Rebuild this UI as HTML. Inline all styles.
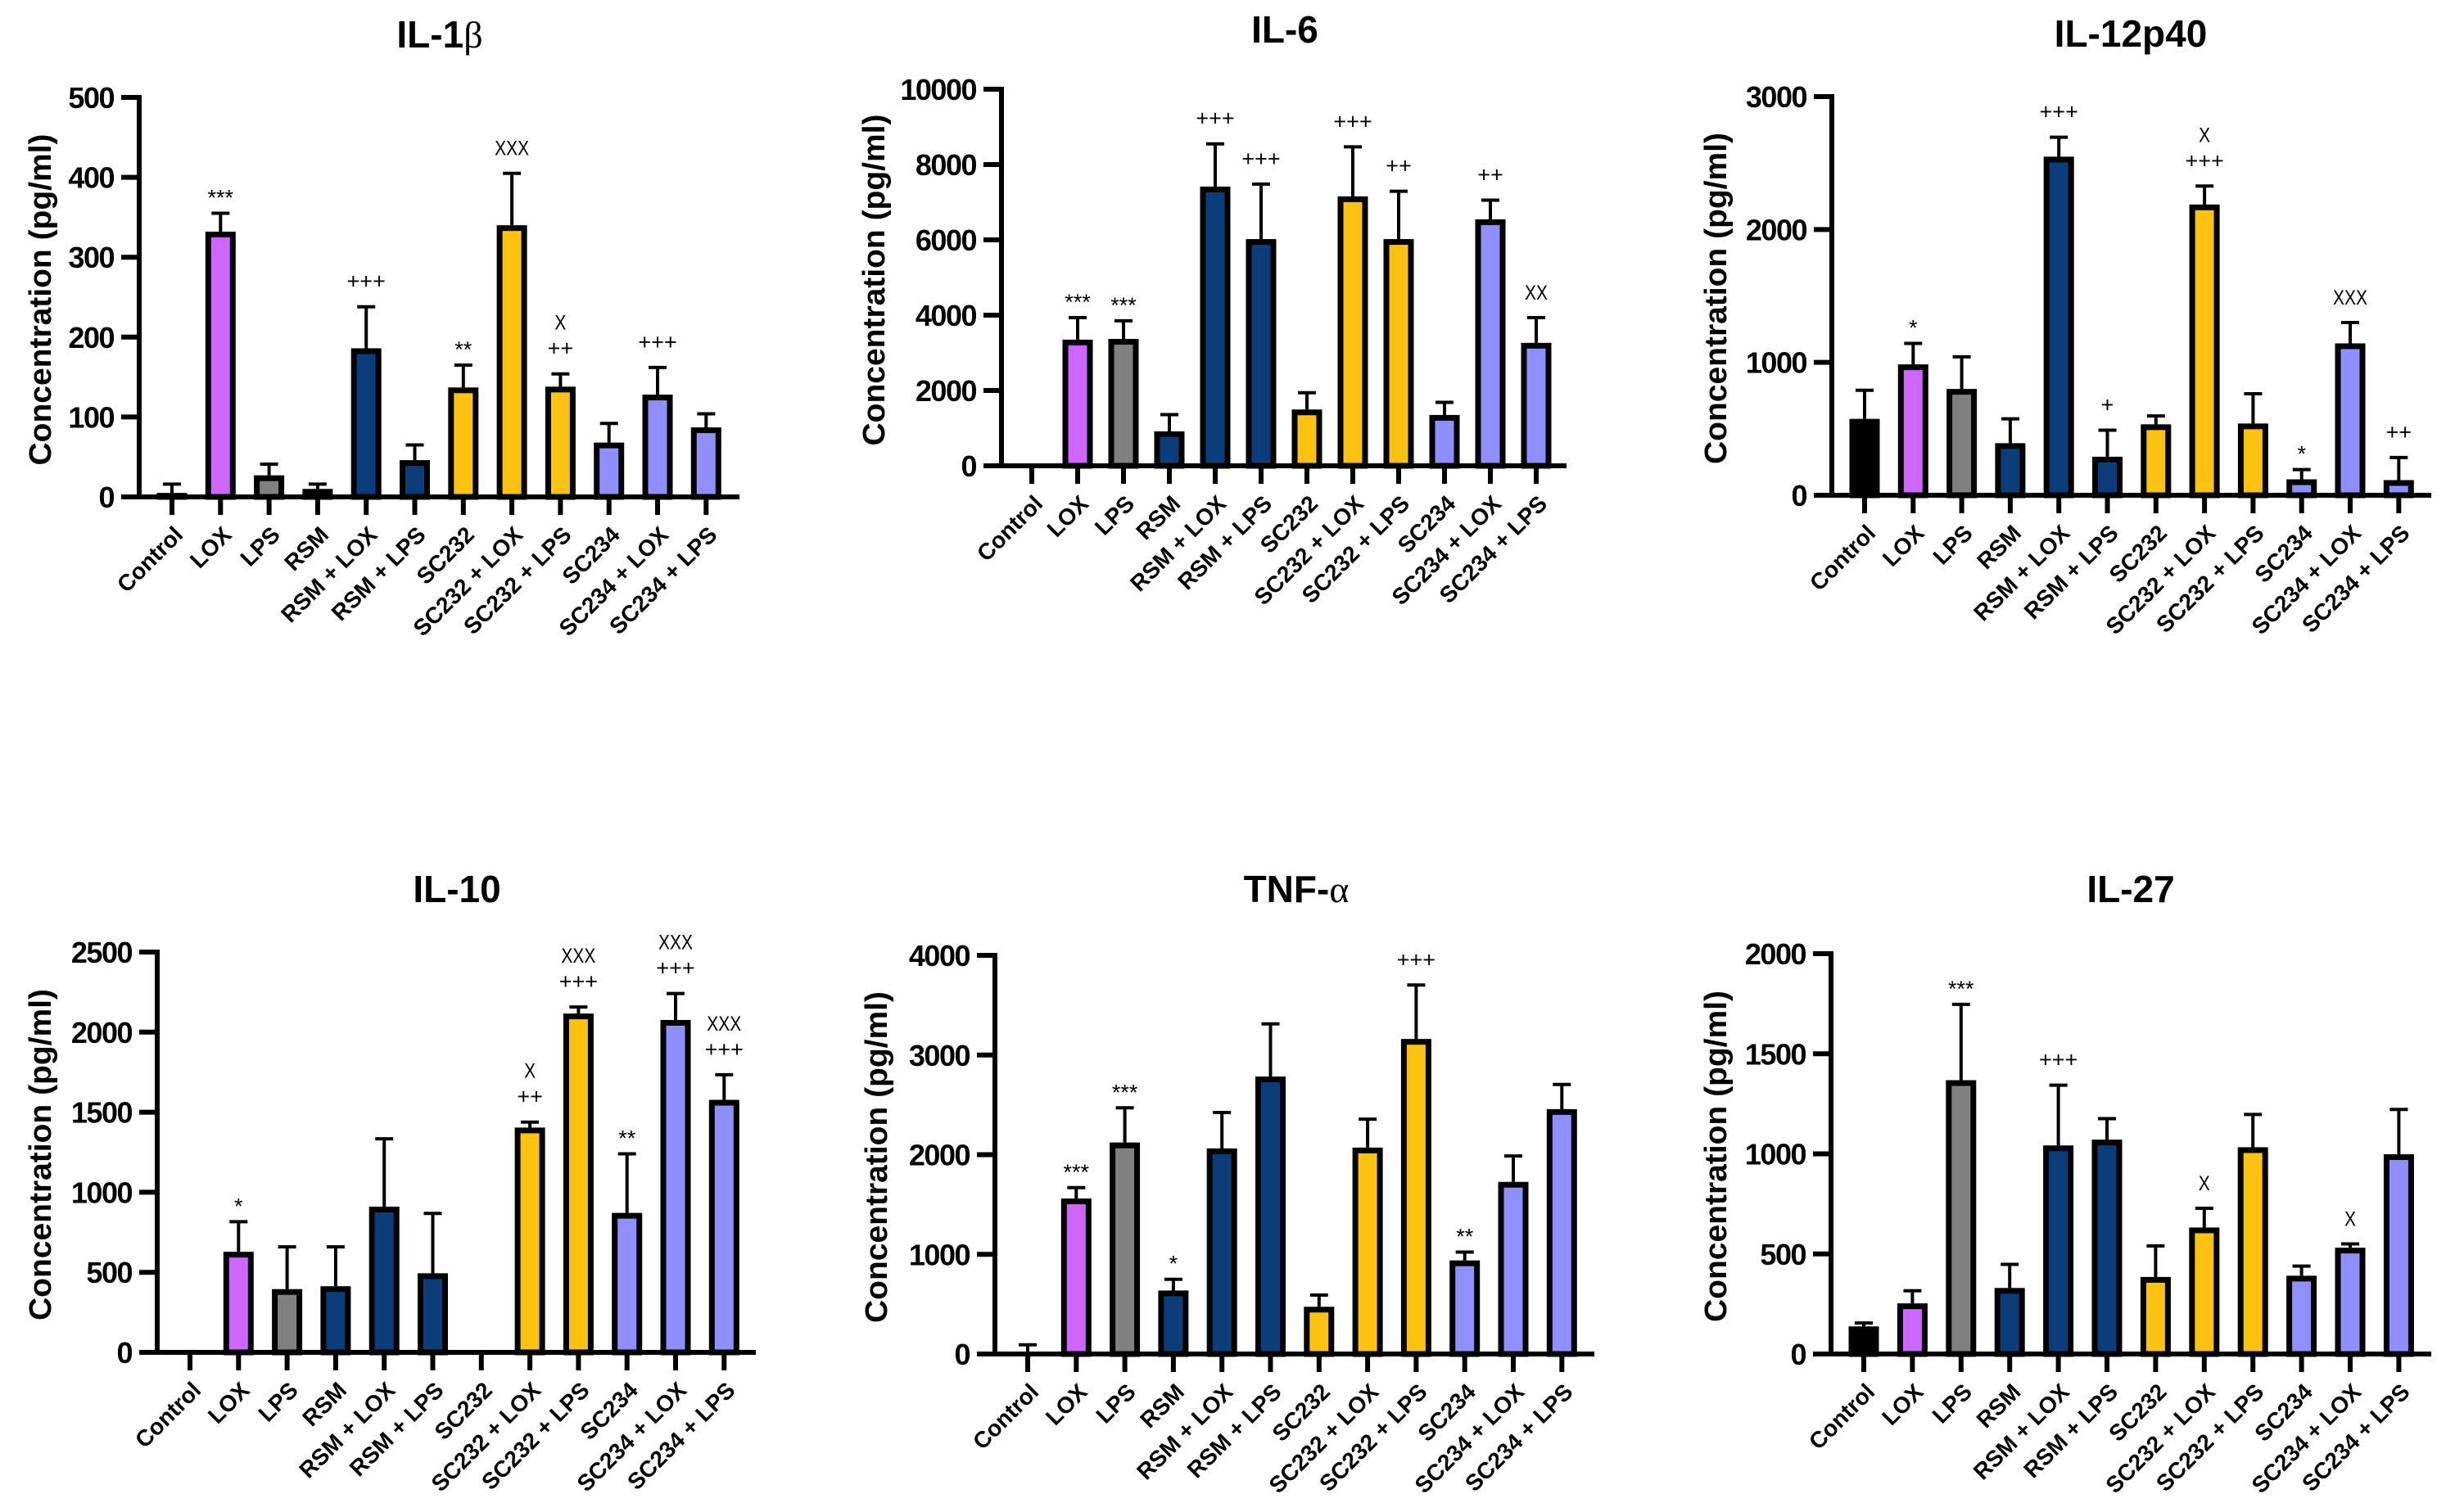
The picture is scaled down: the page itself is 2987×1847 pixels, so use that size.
<!DOCTYPE html>
<html><head><meta charset="utf-8">
<style>
html,body{margin:0;padding:0;background:#fff;}
svg{display:block;}
</style></head>
<body>
<svg id="fig" width="2987" height="1847" viewBox="0 0 2987 1847" xmlns="http://www.w3.org/2000/svg"></svg>
<script>
const categories = ["Control","LOX","LPS","RSM","RSM + LOX","RSM + LPS","SC232","SC232 + LOX","SC232 + LPS","SC234","SC234 + LOX","SC234 + LPS"];
const groupColors = ["#000000","#CC66FF","#808080","#0A3D7A","#0A3D7A","#0A3D7A","#FBC211","#FBC211","#FBC211","#8F8FFF","#8F8FFF","#8F8FFF"];

const il1bValues = [5,332,27,10,186,46,137,340,138,68,128,87];
const il1bErrors = [16,355,41,16,238,65,165,405,154,92,162,104];
const il1bTicks = [0,100,200,300,400,500];
const il1bMarks = [[],["***"],[],[],["+++"],[],["**"],["XXX"],["++","X"],[],["+++"],[]];

const il6Values = [0,3350,3370,915,7415,6020,1495,7155,6020,1350,6545,3265];
const il6Errors = [0,3935,3850,1360,8550,7480,1940,8470,7290,1685,7055,3935];
const il6Ticks = [0,2000,4000,6000,8000,10000];
const il6Marks = [[],["***"],["***"],[],["+++"],["+++"],[],["+++"],["++"],[],["++"],["XX"]];

const il12Values = [575,985,800,392,2548,290,534,2188,540,120,1143,114];
const il12Errors = [790,1143,1042,575,2694,490,597,2327,764,193,1300,284];
const il12Ticks = [0,1000,2000,3000];
const il12Marks = [[],["*"],[],[],["+++"],["+"],[],["+++","X"],[],["*"],["XXX"],["++"]];

const il10Values = [0,628,395,413,910,494,0,1404,2116,871,2076,1577];
const il10Errors = [0,816,659,659,1334,868,0,1438,2157,1240,2241,1734];
const il10Ticks = [0,500,1000,1500,2000,2500];
const il10Marks = [[],["*"],[],[],[],[],[],["++","X"],["+++","XXX"],["**"],["+++","XXX"],["+++","XXX"]];

const tnfValues = [25,1560,2122,637,2063,2784,474,2071,3161,939,1727,2457];
const tnfErrors = [92,1669,2470,750,2423,3312,591,2356,3702,1023,1987,2704];
const tnfTicks = [0,1000,2000,3000,4000];
const tnfMarks = [[],["***"],["***"],["*"],[],[],[],[],["+++"],["**"],[],[]];

const il27Values = [138,253,1368,330,1042,1071,385,632,1033,391,531,998];
const il27Errors = [155,316,1747,448,1343,1176,540,728,1197,439,550,1222];
const il27Ticks = [0,500,1000,1500,2000];
const il27Marks = [[],[],["***"],[],["+++"],[],[],["X"],[],[],["X"],[]];

const NS = "http://www.w3.org/2000/svg";
const svg = document.getElementById("fig");
function mk(tag, attrs, parent){
  const e = document.createElementNS(NS, tag);
  for (const k in attrs) e.setAttribute(k, attrs[k]);
  (parent||svg).appendChild(e);
  return e;
}

const panels = [
  {key:"il1b", title:"IL-1", greek:"β", values:il1bValues, errors:il1bErrors, ticks:il1bTicks, marks:il1bMarks,
   ax:170, xEnd:903, yTop:119, yZero:607, c0:210, step:59.3, titleX:537, titleY:58, labX:48},
  {key:"il6", title:"IL-6", greek:"", values:il6Values, errors:il6Errors, ticks:il6Ticks, marks:il6Marks,
   ax:1223, xEnd:1913, yTop:109, yZero:569, c0:1260, step:56.0, titleX:1569, titleY:52, labX:1066},
  {key:"il12p40", title:"IL-12p40", greek:"", values:il12Values, errors:il12Errors, ticks:il12Ticks, marks:il12Marks,
   ax:2237, xEnd:2969, yTop:118, yZero:605, c0:2277, step:59.3, titleX:2602, titleY:57, labX:2094},
  {key:"il10", title:"IL-10", greek:"", values:il10Values, errors:il10Errors, ticks:il10Ticks, marks:il10Marks,
   ax:192, xEnd:923, yTop:1163, yZero:1652, c0:232, step:59.3, titleX:558, titleY:1102, labX:48},
  {key:"tnf", title:"TNF-", greek:"α", values:tnfValues, errors:tnfErrors, ticks:tnfTicks, marks:tnfMarks,
   ax:1215, xEnd:1947, yTop:1167, yZero:1654, c0:1255, step:59.3, titleX:1583, titleY:1102, labX:1069},
  {key:"il27", title:"IL-27", greek:"", values:il27Values, errors:il27Errors, ticks:il27Ticks, marks:il27Marks,
   ax:2236, xEnd:2969, yTop:1165, yZero:1654, c0:2276, step:59.4, titleX:2602, titleY:1102, labX:2094}
];

panels.forEach(p => {
  const g = mk("g", {});
  
  
  const maxV = p.ticks[p.ticks.length-1];
  const y = v => p.yZero - (v / maxV) * (p.yZero - p.yTop);
  const x = i => p.c0 + i * p.step;

  const t = mk("text", {x:p.titleX, y:p.titleY, "text-anchor":"middle", "font-family":"Liberation Sans, sans-serif", "font-weight":"bold", "font-size":"46"}, g);
  
  
  t.textContent = p.title;
  if (p.greek){
    const ts = mk("tspan", {"font-family":"Liberation Serif, serif", "font-weight":"normal"}, t);
    ts.textContent = p.greek;
  }

  const cy = (p.yTop + p.yZero)/2 + 3;
  const yl = mk("text", {x:0, y:0, transform:`translate(${p.labX+14},${cy}) rotate(-90)`, "text-anchor":"middle", "font-family":"Liberation Sans, sans-serif", "font-weight":"bold", "font-size":"38", textLength:"405", lengthAdjust:"spacingAndGlyphs"}, g);
  
  
  yl.textContent = "Concentration (pg/ml)";

  p.values.forEach((v, i) => {
    if (v <= 0) return;
    const cx = x(i), bw = 37, sw = 7;
    const top = y(v);
    if (p.errors[i] > v){
      const el = mk("line", {x1:cx, x2:cx, y1:top, y2:y(p.errors[i]), stroke:"#000", "stroke-width":"4"}, g);
      
      
      const ec = mk("line", {x1:cx-11, x2:cx+11, y1:y(p.errors[i]), y2:y(p.errors[i]), stroke:"#000", "stroke-width":"4"}, g);
      
      
    }
    const r = mk("rect", {x:cx - bw/2 + sw/2, y:top + sw/2, width:bw - sw, height:Math.max(0, p.yZero - top - sw/2), fill:groupColors[i], stroke:"#000", "stroke-width":sw}, g);
    
    
  });

  p.marks.forEach((arr, i) => {
    const base = y(Math.max(p.errors[i], p.values[i])) - 22;
    arr.forEach((m, j) => {
      const isX = m[0] === "X";
      const a = mk("text", {x:x(i), y:base + (m[0]==="*" ? 12 : 0) - j*32, "text-anchor":"middle", "font-family":"Liberation Sans, sans-serif", "font-size": isX ? "25" : "27"}, g);
      if (isX){ a.setAttribute("textLength", String(m.length*14)); a.setAttribute("lengthAdjust","spacingAndGlyphs"); }
      
      
      a.textContent = m;
    });
  });

  const yAxis = mk("line", {x1:p.ax, x2:p.ax, y1:p.yTop-3, y2:p.yZero+3, stroke:"#000", "stroke-width":"6"}, g);
  
  
  const xAxis = mk("line", {x1:p.ax-22, x2:p.xEnd, y1:p.yZero, y2:p.yZero, stroke:"#000", "stroke-width":"6"}, g);
  
  

  p.ticks.forEach(tv => {
    const ty = y(tv);
    const tk = mk("line", {x1:p.ax-22, x2:p.ax, y1:ty, y2:ty, stroke:"#000", "stroke-width":"6"}, g);
    
    
    const tl = mk("text", {x:p.ax-31, y:ty+13, "text-anchor":"end", "font-family":"Liberation Sans, sans-serif", "font-weight":"bold", "font-size":"36", "letter-spacing":"-1.5"}, g);
    
    
    tl.textContent = String(tv);
  });

  categories.forEach((c, i) => {
    const cx = x(i);
    const tk = mk("line", {x1:cx, x2:cx, y1:p.yZero, y2:p.yZero+22, stroke:"#000", "stroke-width":"6"}, g);
    
    
    const cl = mk("text", {x:0, y:0, transform:`translate(${cx+15},${p.yZero+48}) rotate(-45)`, "text-anchor":"end", "font-family":"Liberation Sans, sans-serif", "font-weight":"bold", "font-size":"28"}, g);
    
    
    cl.textContent = c;
  });
});
</script>
</body></html>
